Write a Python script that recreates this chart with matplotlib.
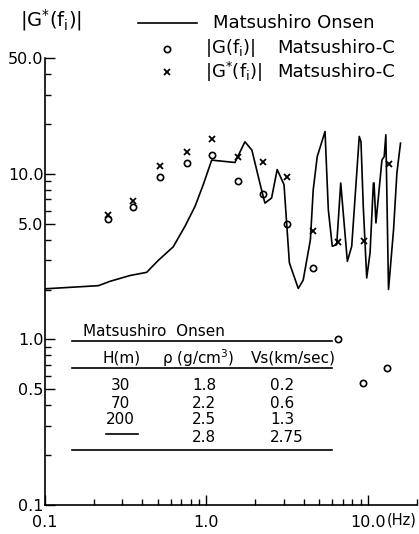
import matplotlib
matplotlib.use("Agg")
import matplotlib.pyplot as plt
from matplotlib.lines import Line2D

plt.rcParams['font.family'] = ['DejaVu Sans']
plt.rcParams['mathtext.default'] = 'regular'

# ---------------- data ---------------- #

# |G*(f)| Matsushiro Onsen (solid line)
onsen_f = [0.1, 0.214, 0.252, 0.336, 0.426, 0.503, 0.622, 0.736, 0.849, 0.955,
           1.077, 1.156, 1.50, 1.73, 1.91, 2.14, 2.30, 2.53, 2.74, 3.02,
           3.26, 3.70, 3.97, 4.40, 4.58, 4.85, 5.42, 5.68, 6.01, 6.4,
           6.78, 7.45, 7.93, 8.83, 9.05, 9.35, 9.82, 10.3, 10.8, 10.9,
           11.2, 12.2, 12.6, 12.9, 13.4, 14.4, 15.1, 15.9]
onsen_g = [2.02, 2.11, 2.24, 2.43, 2.54, 3.0, 3.62, 4.82, 6.35, 8.6,
           12.1, 12.0, 11.7, 15.6, 13.9, 8.79, 6.65, 7.14, 10.6, 8.6,
           2.90, 2.03, 2.28, 4.0, 8.0, 12.7, 18.0, 6.07, 3.65, 3.73,
           8.79, 2.96, 3.65, 16.8, 15.6, 6.35, 2.35, 3.33, 8.79, 8.8,
           5.05, 12.1, 12.7, 17.2, 2.0, 4.6, 10.1, 15.3]

# |G(fi)| Matsushiro-C (circles)
obs_f = [0.247, 0.352, 0.515, 0.757, 1.077, 1.57, 2.24, 3.16, 4.58, 6.49, 9.35, 13.2]
obs_g = [5.33, 6.3, 9.55, 11.6, 12.9, 9.07, 7.6, 5.0, 2.70, 1.01, 0.547, 0.673]

# |G*(fi)| Matsushiro-C (crosses)
star_f = [0.247, 0.352, 0.515, 0.757, 1.08, 1.57, 2.25, 3.16, 4.58, 6.49, 9.5, 13.4]
star_g = [5.66, 6.87, 11.2, 13.6, 16.2, 12.7, 11.7, 9.55, 4.49, 3.88, 3.91, 11.5]

# layer table
layer_h = ['30', '70', '200', '']
layer_rho = ['1.8', '2.2', '2.5', '2.8']
layer_vs = ['0.2', '0.6', '1.3', '2.75']

xticks = [0.1, 1.0, 10.0]
xtick_labels = ['0.1', '1.0', '10.0']
yticks = [0.1, 0.5, 1.0, 5.0, 10.0, 50.0]
ytick_labels = ['0.1', '0.5', '1.0', '5.0', '10.0', '50.0']

# ---------------------- figure ---------------------- #

W, H = 419, 534
fig = plt.figure(figsize=(W / 100, H / 100), dpi=100)
ax = fig.add_axes([45 / W, 29 / H, 371.6 / W, 447 / H])

ax.plot(onsen_f, onsen_g, color='black', lw=1.2)
ax.plot(obs_f, obs_g, 'o', ms=4.5, mfc='none', mec='black', mew=1.2)
ax.plot(star_f, star_g, 'x', ms=4.5, color='black', mew=1.3)

ax.set_xscale('log')
ax.set_yscale('log')
ax.set_xlim(0.1, 20)
ax.set_ylim(0.1, 50)

ax.set_xticks(xticks, xtick_labels)
ax.set_yticks(yticks, ytick_labels)
ax.tick_params(which='both', direction='in', width=1, labelsize=11.5)
ax.tick_params(axis='y', which='major', length=7, pad=1)
ax.tick_params(axis='x', which='major', length=7, pad=7)
ax.tick_params(which='minor', length=4)

for s in ['top', 'right']:
    ax.spines[s].set_visible(False)
for s in ['left', 'bottom']:
    ax.spines[s].set_linewidth(1.2)

fig.text(387 / W, 1 - 520 / H, '(Hz)', fontsize=10.5, va='center', ha='left')

# ---------------------- layer table ---------------------- #
def ax_xy(px, py):
    return (px - 45) / 371.6, (505 - py) / 447

tk = dict(transform=ax.transAxes, fontsize=11, color='black')
x0, _ = ax_xy(72, 0)
x1, _ = ax_xy(332, 0)
for py in [341, 368, 450]:
    _, fy = ax_xy(0, py)
    ax.plot([x0, x1], [fy, fy], color='black', lw=1.2, transform=ax.transAxes)

ax.text(*ax_xy(83, 339), 'Matsushiro  Onsen', ha='left', va='bottom', **tk)
ax.text(*ax_xy(122, 358), 'H(m)', ha='center', va='center', **tk)
ax.text(*ax_xy(198, 358), r'$\rho$ (g/cm$^3$)', ha='center', va='center', **tk)
ax.text(*ax_xy(293, 358), 'Vs(km/sec)', ha='center', va='center', **tk)

row_y = [386, 403, 420, 438]
for h, rho, vs, py in zip(layer_h, layer_rho, layer_vs, row_y):
    if h:
        ax.text(*ax_xy(120, py), h, ha='center', va='center', **tk)
    else:
        xa, ya = ax_xy(106, py - 4)
        xb, _ = ax_xy(138, py - 4)
        ax.plot([xa, xb], [ya, ya], color='black', lw=1.2, transform=ax.transAxes)
    ax.text(*ax_xy(204, py), rho, ha='center', va='center', **tk)
    ax.text(*ax_xy(270, py), vs, ha='left', va='center', **tk)

# ---------------------- legend / header ---------------------- #
def fig_xy(px, py):
    return px / W, 1 - py / H

fig.text(*fig_xy(20, 20), r'|G$^{*}$(f$_{i}$)|', fontsize=14, va='center')

fig.add_artist(Line2D([138 / W, 197 / W], [1 - 23 / H, 1 - 23 / H], color='black', lw=1.2))
fig.text(*fig_xy(213, 23), 'Matsushiro Onsen', fontsize=13, va='center')

fig.add_artist(Line2D([167 / W], [1 - 49 / H], marker='o', ms=4.5, mfc='none',
                      mec='black', mew=1.2, ls='none'))
fig.text(*fig_xy(205, 48), r'|G(f$_{i}$)|', fontsize=13, va='center')
fig.text(*fig_xy(277, 48), 'Matsushiro-C', fontsize=13, va='center')

fig.add_artist(Line2D([167 / W], [1 - 72 / H], marker='x', ms=4.5, color='black',
                      mew=1.3, ls='none'))
fig.text(*fig_xy(205, 72), r'|G$^{*}$(f$_{i}$)|', fontsize=13, va='center')
fig.text(*fig_xy(277, 72), 'Matsushiro-C', fontsize=13, va='center')

fig.savefig('out.png', dpi=100)
